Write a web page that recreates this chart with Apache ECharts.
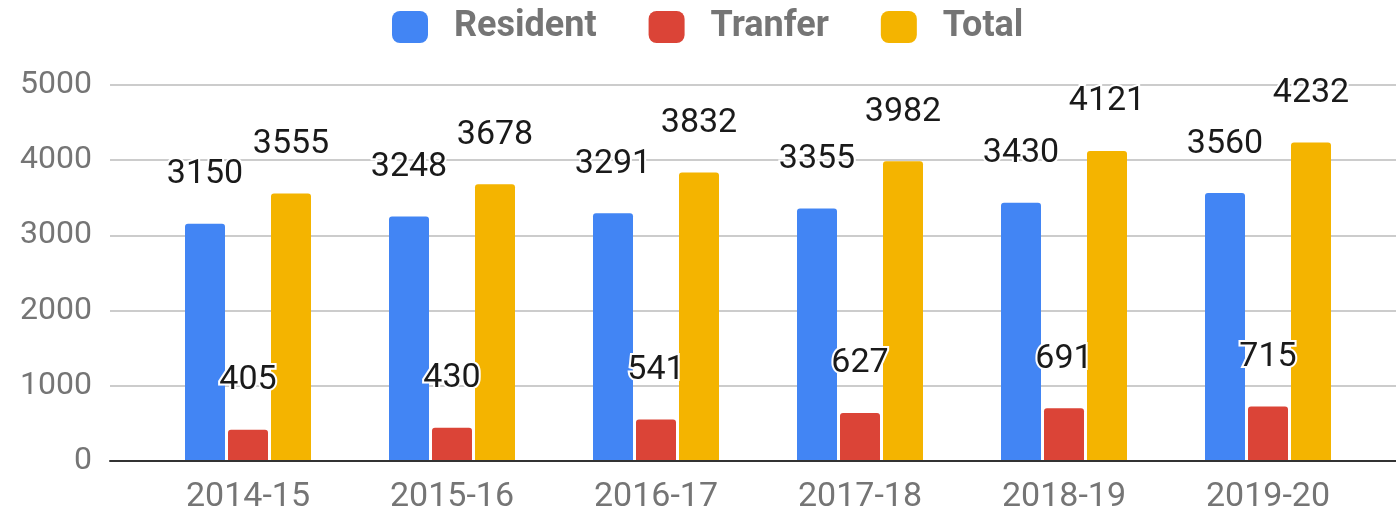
<!DOCTYPE html>
<html>
<head>
<meta charset="utf-8">
<script src="https://cdn.jsdelivr.net/npm/echarts@6/dist/echarts.min.js"></script>
<style>
  html, body { margin: 0; padding: 0; background: #fff; }
  #chart { width: 1396px; height: 514px; }
</style>
</head>
<body>
<div id="chart"></div>
<script>
const years = ['2014-15', '2015-16', '2016-17', '2017-18', '2018-19', '2019-20']
const resident = [3150, 3248, 3291, 3355, 3430, 3560]
const tranfer = [405, 430, 541, 627, 691, 715]
const total = [3555, 3678, 3832, 3982, 4121, 4232]
const yTicks = [0, 1000, 2000, 3000, 4000, 5000]

const chart = echarts.init(document.getElementById('chart'))

const barLabel = {
  show: true,
  position: 'top',
  distance: 32,
  fontSize: 34,
  fontFamily: 'Roboto',
  color: '#1a1a1a',
  textBorderColor: '#fff',
  textBorderWidth: 4
}

function barSeries (name, data, color) {
  return {
    name,
    type: 'bar',
    xAxisIndex: 1,
    yAxisIndex: 1,
    barWidth: 40,
    barGap: '7.5%',
    itemStyle: { color, borderRadius: [3, 3, 0, 0] },
    label: barLabel,
    data
  }
}

const option = {
  animation: false,
  textStyle: { fontFamily: 'Roboto' },
  legend: {
    top: 9,
    left: 392,
    padding: 0,
    icon: 'roundRect',
    itemWidth: 36,
    itemHeight: 32,
    itemGap: 52,
    textStyle: {
      fontSize: 36,
      fontWeight: 'bold',
      color: '#757575',
      padding: [3, 0, 0, 21]
    },
    data: ['Resident', 'Tranfer', 'Total']
  },
  grid: [
    // gridlines + baseline across full width
    { left: 110, right: 0, top: 85, bottom: 53 },
    // bars
    { left: 146, right: 26, top: 85, bottom: 53 }
  ],
  xAxis: [
    {
      gridIndex: 0,
      type: 'value',
      min: 0,
      max: 1,
      axisLine: { show: true, onZero: false, lineStyle: { color: '#333', width: 2 } },
      axisTick: { show: false },
      axisLabel: { show: false },
      splitLine: { show: false }
    },
    {
      gridIndex: 1,
      type: 'category',
      data: years,
      axisLine: { show: false },
      axisTick: { show: false },
      axisLabel: { fontSize: 34, color: '#757575', margin: 20 }
    }
  ],
  yAxis: [
    {
      gridIndex: 0,
      type: 'value',
      min: yTicks[0],
      max: yTicks[yTicks.length - 1],
      interval: 1000,
      axisLine: { show: false },
      axisTick: { show: false },
      axisLabel: { fontSize: 32, color: '#757575', margin: 18, formatter: v => String(v) },
      splitLine: { lineStyle: { color: '#cccccc', width: 2 } }
    },
    {
      gridIndex: 1,
      type: 'value',
      min: yTicks[0],
      max: yTicks[yTicks.length - 1],
      interval: 1000,
      show: false,
      splitLine: { show: false }
    }
  ],
  series: [
    barSeries('Resident', resident, '#4285F4'),
    barSeries('Tranfer', tranfer, '#DB4437'),
    barSeries('Total', total, '#F4B400')
  ]
}

chart.setOption(option)
</script>
</body>
</html>
